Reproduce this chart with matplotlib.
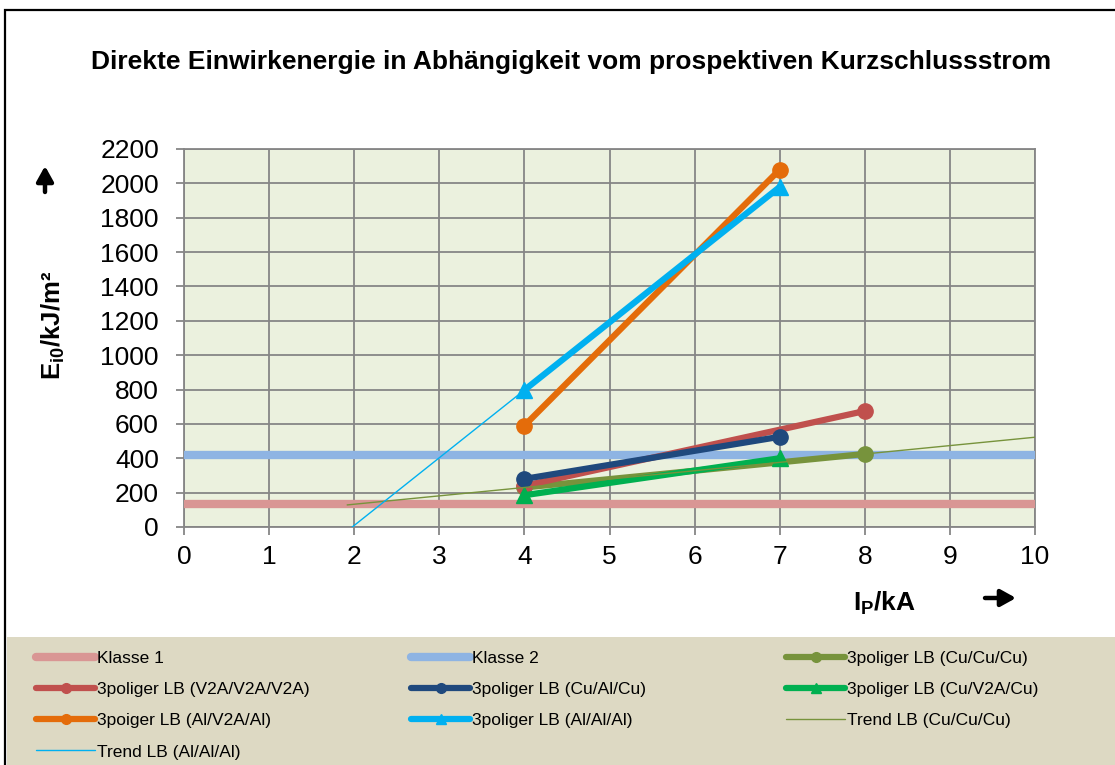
import numpy as np
import matplotlib
matplotlib.use("Agg")
import matplotlib.pyplot as plt
from matplotlib.lines import Line2D
from matplotlib.patches import Rectangle

plt.rcParams['font.family'] = ['Liberation Sans', 'DejaVu Sans']
plt.rcParams['mathtext.fontset'] = 'custom'
plt.rcParams['mathtext.bf'] = 'Liberation Sans:bold'
plt.rcParams['mathtext.rm'] = 'Liberation Sans'

# ---- data ----
klasse_x = [0, 10]
klasse1_y = [135, 135]
klasse2_y = [420, 420]

cu_cu_cu_x = [4, 8]
cu_cu_cu_y = [230, 425]

v2a_x = [4, 8]
v2a_y = [240, 675]

cu_al_cu_x = [4, 7]
cu_al_cu_y = [280, 525]

cu_v2a_cu_x = [4, 7]
cu_v2a_cu_y = [185, 400]

al_v2a_al_x = [4, 7]
al_v2a_al_y = [590, 2080]

al_al_al_x = [4, 7]
al_al_al_y = [797, 1979]

trend_cu_range = [1.92, 10]
trend_al_range = [1.977, 4]

x_ticks = list(range(0, 11))
y_ticks = list(range(0, 2201, 200))

title = "Direkte Einwirkenergie in Abhängigkeit vom prospektiven Kurzschlussstrom"

# ---- figure ----
W, H = 1115, 765
fig = plt.figure(figsize=(W/100, H/100), dpi=100)
fig.patch.set_facecolor('white')

# legend background & border
fig.add_artist(Rectangle((7/W, 0), 1, (H-637)/H, transform=fig.transFigure,
                         facecolor='#DDD9C3', edgecolor='none', zorder=0))
fig.add_artist(Rectangle((5/W, -0.05), 1.2, (H-10)/H + 0.05, transform=fig.transFigure,
                         facecolor='none', edgecolor='black', lw=1.6, zorder=5))

ax = fig.add_axes([184/W, 1-527/H, (1035-184)/W, (527-149)/H])
ax.set_facecolor('#EBF1DE')
ax.set_xlim(0, 10)
ax.set_ylim(0, 2200)
ax.set_xticks(x_ticks)
ax.set_yticks(y_ticks)
ax.grid(True, color='#868686', lw=1.3)
ax.set_axisbelow(True)
for s in ax.spines.values():
    s.set_color('#868686')
    s.set_linewidth(1.3)
ax.tick_params(axis='both', colors='#868686', labelcolor='black', length=6, width=1.3,
               labelsize=19)
ax.tick_params(axis='x', pad=7)
ax.tick_params(axis='y', pad=12)

h_k1, = ax.plot(klasse_x, klasse1_y, color='#D99694', lw=6, solid_capstyle='butt', clip_on=False, zorder=3)
h_k2, = ax.plot(klasse_x, klasse2_y, color='#8EB4E3', lw=6, solid_capstyle='butt', clip_on=False, zorder=3)

# trend lines (linear fit)
pc = np.polyfit(cu_cu_cu_x, cu_cu_cu_y, 1)
pa = np.polyfit(al_al_al_x, al_al_al_y, 1)
tc = np.array(trend_cu_range)
ta = np.array(trend_al_range)

lw = 4.5
ms = 11
h_cu, = ax.plot(cu_cu_cu_x, cu_cu_cu_y, color='#77933C', lw=lw, marker='o', ms=ms, zorder=4)
h_v2a, = ax.plot(v2a_x, v2a_y, color='#C0504D', lw=lw, marker='o', ms=ms, zorder=4)
h_cual, = ax.plot(cu_al_cu_x, cu_al_cu_y, color='#1F497D', lw=lw, marker='o', ms=ms, zorder=5)
h_cuv2a, = ax.plot(cu_v2a_cu_x, cu_v2a_cu_y, color='#00B050', lw=lw, marker='^', ms=ms, zorder=5)
h_alv2a, = ax.plot(al_v2a_al_x, al_v2a_al_y, color='#E46C0A', lw=lw, marker='o', ms=ms, zorder=4)
h_alal, = ax.plot(al_al_al_x, al_al_al_y, color='#00B0F0', lw=lw, marker='^', ms=ms, zorder=5)
h_tcu, = ax.plot(tc, np.polyval(pc, tc), color='#77933C', lw=1.0, zorder=6)
h_tal, = ax.plot(ta, np.polyval(pa, ta), color='#00B0F0', lw=1.0, zorder=6)

fig.text(571/W, 1-62/H, title, ha='center', va='center', fontsize=19, fontweight='bold')

fig.text(53/W, 1-325/H, r'E$_\mathbf{i0}$/kJ/m²', rotation=90, ha='center', va='center',
         fontsize=18.5, fontweight='bold')
fig.text(885/W, 1-603/H, r'I$_\mathbf{P}$/kA', ha='center', va='center',
         fontsize=19, fontweight='bold')

# arrows
ax.annotate('', xy=(45, H-166), xytext=(45, H-192), xycoords='figure pixels', textcoords='figure pixels',
            arrowprops=dict(arrowstyle='-|>,head_length=0.9,head_width=0.5', lw=3.2, color='black',
                            shrinkA=0, shrinkB=0))
ax.annotate('', xy=(1016, H-598), xytext=(985, H-598), xycoords='figure pixels', textcoords='figure pixels',
            arrowprops=dict(arrowstyle='-|>,head_length=0.9,head_width=0.5', lw=3.2, color='black',
                            shrinkA=0, shrinkB=0))

# legend (row-major order in 3 fixed columns)
def leg_handle(h):
    m = h.get_marker()
    return Line2D([], [], color=h.get_color(), lw=h.get_linewidth(), marker=m,
                  ms=7 if m not in (None, 'None', '') else 0, solid_capstyle='round')

cols = [
    [(h_k1, 'Klasse 1'), (h_v2a, '3poliger LB (V2A/V2A/V2A)'), (h_alv2a, '3poiger LB (Al/V2A/Al)'), (h_tal, 'Trend LB (Al/Al/Al)')],
    [(h_k2, 'Klasse 2'), (h_cual, '3poliger LB (Cu/Al/Cu)'), (h_alal, '3poliger LB (Al/Al/Al)')],
    [(h_cu, '3poliger LB (Cu/Cu/Cu)'), (h_cuv2a, '3poliger LB (Cu/V2A/Cu)'), (h_tcu, 'Trend LB (Cu/Cu/Cu)')],
]
col_x = [36, 411, 786]
for cx, items in zip(col_x, cols):
    hs = [leg_handle(h) for h, _ in items]
    lbs = [l for _, l in items]
    fig.legend(hs, lbs, loc='upper left', bbox_to_anchor=(cx/W, 1-651/H), frameon=False,
               fontsize=12.5, handlelength=3.4, handletextpad=0.1, labelspacing=0.92,
               borderaxespad=0, borderpad=0)

fig.savefig('out.png', dpi=100)
